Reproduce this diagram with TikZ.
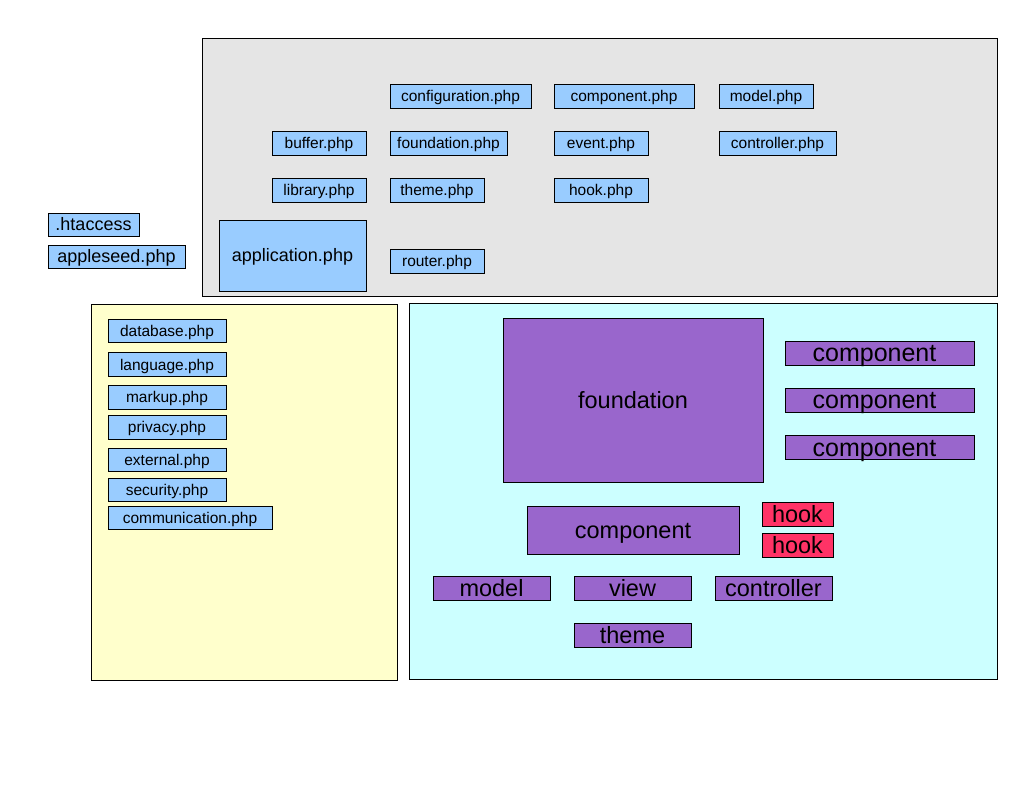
\documentclass[tikz,border=0pt]{standalone}
\usepackage{fontspec}
\setmainfont{Liberation Sans}
\definecolor{grayfill}{HTML}{E5E5E5}
\definecolor{yellowfill}{HTML}{FFFFCC}
\definecolor{cyanfill}{HTML}{CCFFFF}
\definecolor{bluefill}{HTML}{99CCFF}
\definecolor{purplefill}{HTML}{9966CC}
\definecolor{hookfill}{HTML}{FF3366}
\tikzset{
  container/.style={draw=black, line width=0.9pt, inner sep=0pt, anchor=center},
  box/.style={draw=black, line width=0.9pt, inner sep=0pt, anchor=center, text depth=0pt},
  file/.style={box, fill=bluefill, minimum height=24pt, text height=11.1pt, font=\fontsize{15.5pt}{18pt}\selectfont},
  bigfile/.style={box, fill=bluefill, text height=12.9pt, font=\fontsize{18pt}{21pt}\selectfont},
  part/.style={box, fill=purplefill, minimum height=24pt, text height=16.8pt, font=\fontsize{23.5pt}{27pt}\selectfont},
  widepart/.style={part, text height=17.9pt, font=\fontsize{25pt}{28pt}\selectfont},
  hookbox/.style={part, fill=hookfill},
}
\begin{document}
\begin{tikzpicture}[x=1pt,y=-1pt]
\useasboundingbox (0,0) rectangle (1034,799);
% containers
\node[container, fill=grayfill, minimum width=795pt, minimum height=258pt] (core) at (599.5,167) {};
\node[container, fill=yellowfill, minimum width=306pt, minimum height=376pt] (lib) at (244,492) {};
\node[container, fill=cyanfill, minimum width=588pt, minimum height=376pt] (app) at (703,491) {};
% root files
\node[bigfile, minimum width=91pt, minimum height=23pt] (htaccess) at (93.5,224.5) {.htaccess};
\node[bigfile, minimum width=137pt, minimum height=23pt] (appleseed) at (116.5,256.5) {appleseed.php};
% core files
\node[file, minimum width=141pt] (conf) at (460.5,96) {configuration.php};
\node[file, minimum width=140pt] (compphp) at (624,96) {component.php};
\node[file, minimum width=94pt] (modelphp) at (766,96) {model.php};
\node[file, minimum width=94pt] (buffer) at (319,143) {buffer.php};
\node[file, minimum width=117pt] (foundphp) at (448.5,143) {foundation.php};
\node[file, minimum width=94pt] (event) at (601,143) {event.php};
\node[file, minimum width=117pt] (ctrlphp) at (777.5,143) {controller.php};
\node[file, minimum width=94pt] (library) at (319,190) {library.php};
\node[file, minimum width=94pt] (themephp) at (437,190) {theme.php};
\node[file, minimum width=94pt] (hookphp) at (601,190) {hook.php};
\node[bigfile, minimum width=147pt, minimum height=71pt] (application) at (292.5,255.5) {application.php};
\node[file, minimum width=94pt] (router) at (437,261) {router.php};
% library files
\node[file, minimum width=118pt, minimum height=23pt] (database) at (167,330.5) {database.php};
\node[file, minimum width=118pt] (language) at (167,364.5) {language.php};
\node[file, minimum width=118pt] (markup) at (167,397) {markup.php};
\node[file, minimum width=118pt] (privacy) at (167,427) {privacy.php};
\node[file, minimum width=118pt, minimum height=23pt] (external) at (167,459.5) {external.php};
\node[file, minimum width=118pt, minimum height=23pt] (security) at (167,489.5) {security.php};
\node[file, minimum width=164pt, minimum height=23pt] (communication) at (190,518) {communication.php};
% application structure
\node[part, minimum width=260pt, minimum height=164pt] (foundation) at (633,400) {foundation};
\node[widepart, minimum width=189pt] (compA) at (879.5,353) {\hspace*{-10pt}component};
\node[widepart, minimum width=189pt] (compB) at (879.5,400) {\hspace*{-10pt}component};
\node[widepart, minimum width=189pt] (compC) at (879.5,447.5) {\hspace*{-10pt}component};
\node[part, minimum width=212pt, minimum height=48pt] (component) at (633,530) {component};
\node[hookbox, minimum width=71pt] (hookA) at (797.5,514) {hook};
\node[hookbox, minimum width=71pt] (hookB) at (797.5,545) {hook};
\node[part, minimum width=117pt] (model) at (491.5,588) {model};
\node[part, minimum width=117pt] (view) at (632.5,588) {view};
\node[part, minimum width=117pt] (controller) at (773.5,588) {controller};
\node[part, minimum width=117pt] (theme) at (632.5,635) {theme};
\end{tikzpicture}
\end{document}
